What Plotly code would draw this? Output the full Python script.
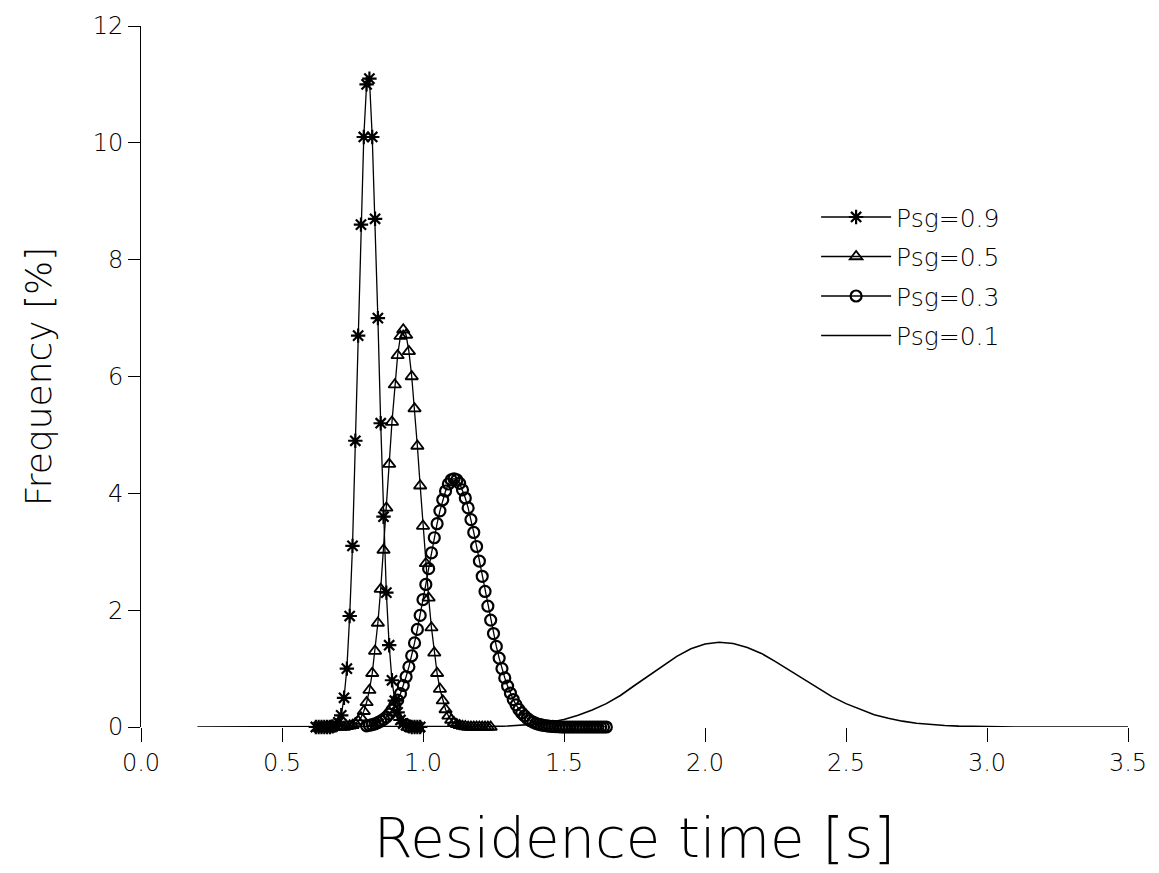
import plotly.graph_objects as go

# ---------------- data ----------------
# Psg = 0.9  (stars), x from 0.62 step 0.01
psg09_x0, psg09_dx = 0.62, 0.01
psg09_y = [0, 0, 0, 0, 0, 0, 0.01, 0.03, 0.08, 0.2, 0.5, 1.0, 1.9, 3.1, 4.9, 6.7,
           8.6, 10.1, 11.0, 11.1, 10.1, 8.7, 7.0, 5.2, 3.6, 2.3, 1.4, 0.8, 0.45,
           0.25, 0.12, 0.06, 0.03, 0.01, 0, 0, 0, 0]

# Psg = 0.5  (triangles), x from 0.71 step 0.01
psg05_x0, psg05_dx = 0.71, 0.01
psg05_y = [0, 0, 0.01, 0.02, 0.03, 0.06, 0.10, 0.16, 0.27, 0.42, 0.63, 0.92, 1.30,
           1.78, 2.36, 3.03, 3.75, 4.50, 5.22, 5.86, 6.36, 6.69, 6.8, 6.71, 6.43,
           6.0, 5.45, 4.81, 4.13, 3.44, 2.80, 2.21, 1.70, 1.27, 0.92, 0.65, 0.45,
           0.30, 0.19, 0.12, 0.075, 0.045, 0.027, 0.015, 0.008,
           0, 0, 0, 0, 0, 0, 0, 0, 0]

# Psg = 0.3  (circles), x from 0.80 step 0.01
psg03_x0, psg03_dx = 0.80, 0.01
psg03_y = [0.02, 0.03, 0.04, 0.055, 0.075, 0.10, 0.13, 0.17, 0.22, 0.29, 0.37, 0.46,
           0.57, 0.71, 0.86, 1.03, 1.22, 1.44, 1.67, 1.91, 2.18, 2.44, 2.71, 2.98,
           3.24, 3.48, 3.70, 3.89, 4.04, 4.16, 4.23, 4.25, 4.23, 4.17, 4.06, 3.92,
           3.75, 3.55, 3.33, 3.09, 2.84, 2.58, 2.32, 2.07, 1.83, 1.60, 1.38, 1.18,
           1.00, 0.84, 0.70, 0.58, 0.47, 0.38, 0.30, 0.24, 0.19, 0.145, 0.11, 0.085,
           0.063, 0.047, 0.035, 0.026, 0.018, 0.013, 0.009, 0.006, 0.004,
           0, 0, 0, 0, 0, 0, 0, 0, 0, 0, 0, 0, 0, 0, 0, 0, 0]

# Psg = 0.1  (plain line), x from 0.20 step 0.05
psg01_x0, psg01_dx = 0.20, 0.05
psg01_y = [0] * 21 + [0.01, 0.016, 0.03, 0.05, 0.08, 0.13, 0.20, 0.29, 0.40, 0.54,
                      0.71, 0.88, 1.05, 1.21, 1.34, 1.42, 1.45, 1.43, 1.36, 1.26,
                      1.12, 0.97, 0.82, 0.66, 0.52, 0.40, 0.30, 0.21, 0.15, 0.10,
                      0.064, 0.04, 0.025, 0.015, 0.008, 0.005, 0.003] + [0] * 9

series_names = ["Psg=0.9", "Psg=0.5", "Psg=0.3", "Psg=0.1"]
x_ticks = [0.0, 0.5, 1.0, 1.5, 2.0, 2.5, 3.0, 3.5]
x_ticktext = ["0.0", "0.5", "1.0", "1.5", "2.0", "2.5", "3.0", "3.5"]
y_ticks = [0, 2, 4, 6, 8, 10, 12]
y_ticktext = ["0", "2", "4", "6", "8", "10", "12"]


def grid(x0, dx, n):
    return [round(x0 + i * dx, 4) for i in range(n)]


FONT = "DejaVu Sans"
W = 300
fig = go.Figure()

fig.add_trace(go.Scatter(
    x=grid(psg09_x0, psg09_dx, len(psg09_y)), y=psg09_y, name=series_names[0],
    mode="lines+markers", cliponaxis=False,
    line=dict(color="black", width=1.3),
    marker=dict(symbol="asterisk-open", size=12, color="black",
                line=dict(color="black", width=2.2)),
    legendgroup="a"))

fig.add_trace(go.Scatter(
    x=grid(psg05_x0, psg05_dx, len(psg05_y)), y=psg05_y, name=series_names[1],
    mode="lines+markers", cliponaxis=False,
    line=dict(color="black", width=1.3),
    marker=dict(symbol="triangle-up-open", size=11, color="black",
                line=dict(color="black", width=1.8)),
    legendgroup="b"))

fig.add_trace(go.Scatter(
    x=grid(psg03_x0, psg03_dx, len(psg03_y)), y=psg03_y, name=series_names[2],
    mode="lines+markers", cliponaxis=False,
    line=dict(color="black", width=1.3),
    marker=dict(symbol="circle-open", size=11, color="black",
                line=dict(color="black", width=2.2)),
    legendgroup="c"))

fig.add_trace(go.Scatter(
    x=grid(psg01_x0, psg01_dx, len(psg01_y)), y=psg01_y, name=series_names[3],
    mode="lines", cliponaxis=False,
    line=dict(color="black", width=1.6),
    legendgroup="d"))

fig.update_layout(
    width=1159, height=873,
    margin=dict(l=141, r=25, t=25, b=146),
    paper_bgcolor="white", plot_bgcolor="white",
    font=dict(family=FONT, size=24, color="black", weight=W),
    showlegend=True,
    legend=dict(x=0.684, y=0.76, xanchor="left", yanchor="top",
                bgcolor="rgba(0,0,0,0)",
                font=dict(size=25, family=FONT, weight=W),
                tracegroupgap=4, itemwidth=70),
    xaxis=dict(range=[0, 3.5], tickvals=x_ticks, ticktext=x_ticktext,
               showgrid=False, zeroline=False, showline=False,
               ticks="outside", ticklen=14, tickcolor="black", tickwidth=1,
               tickfont=dict(size=24, family=FONT, weight=W),
               title=dict(text="Residence time [s]", standoff=42,
                          font=dict(size=56, family=FONT, weight=W))),
    yaxis=dict(range=[0, 12], tickvals=y_ticks, ticktext=y_ticktext,
               showgrid=False, zeroline=False, showline=True,
               linecolor="black", linewidth=1,
               ticks="outside", ticklen=12, tickcolor="black", tickwidth=1,
               tickfont=dict(size=24, family=FONT, weight=W),
               title=dict(text="Frequency [%]", standoff=30,
                          font=dict(size=36, family=FONT, weight=W))),
)

fig.write_html("out.html")
